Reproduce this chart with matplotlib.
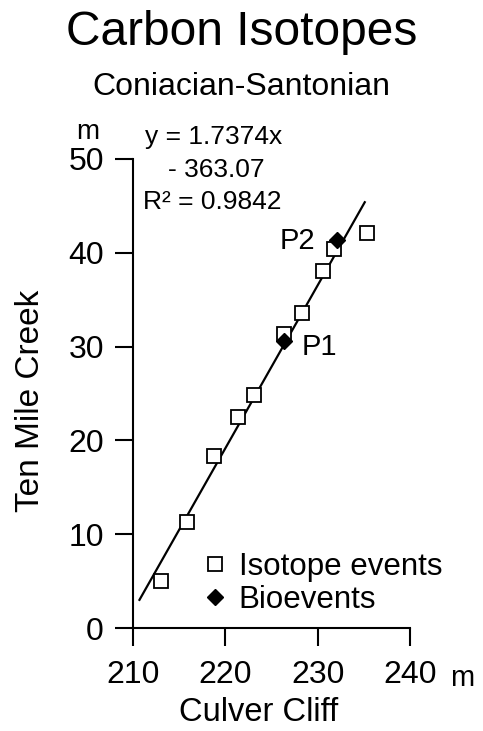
import matplotlib

matplotlib.use("Agg")
import matplotlib.pyplot as plt
import numpy as np

plt.rcParams["font.family"] = ["Liberation Sans", "DejaVu Sans"]

# isotope events (open squares): Culver Cliff (m) vs Ten Mile Creek (m)
iso_x = [213.0, 215.9, 218.8, 221.4, 223.1, 226.3, 228.3, 230.6, 231.8, 235.3]
iso_y = [5.0, 11.3, 18.3, 22.5, 24.8, 31.3, 33.6, 38.1, 40.4, 42.1]

# bioevents (filled diamonds)
bio_x = [226.3, 232.1]
bio_y = [30.6, 41.4]
bio_labels = ["P1", "P2"]

# linear fit shown on the chart
slope = 1.7374
intercept = -363.07
r_squared = 0.9842
fit_x = np.array([210.7, 235.1])

x_ticks = [210, 220, 230, 240]
y_ticks = [0, 10, 20, 30, 40, 50]

fig = plt.figure(figsize=(4.83, 7.31), dpi=100)
ax = fig.add_axes([133 / 483, 1 - 628 / 731, 277 / 483, 469 / 731])

ax.plot(fit_x, slope * fit_x + intercept, color="black", lw=1.6, zorder=2)
ax.plot(iso_x, iso_y, ls="none", marker="s", ms=9.5, mfc="white", mec="black",
        mew=1.3, label="Isotope events", zorder=3)
ax.plot(bio_x, bio_y, ls="none", marker="D", ms=8.5, mfc="black", mec="black",
        label="Bioevents", zorder=4)

offsets = {"P1": ((13, -4), "left"), "P2": ((-16, -1), "right")}
for bx, by, lab in zip(bio_x, bio_y, bio_labels):
    off, ha = offsets[lab]
    ax.annotate(lab, (bx, by), xytext=off, textcoords="offset points",
                ha=ha, va="center", fontsize=21)

ax.set_xlim(210, 240)
ax.set_ylim(0, 50)
ax.set_xticks(x_ticks)
ax.set_yticks(y_ticks)
for side in ("top", "right"):
    ax.spines[side].set_visible(False)
for side in ("left", "bottom"):
    ax.spines[side].set_linewidth(1.5)
ax.tick_params(direction="out", length=13, width=1.5, labelsize=23)
ax.tick_params(axis="y", pad=8)
ax.tick_params(axis="x", pad=10)

ax.set_xlabel("Culver Cliff", fontsize=23.5)
ax.xaxis.set_label_coords(0.452, -0.147)
ax.set_ylabel("Ten Mile Creek", fontsize=24)
ax.yaxis.set_label_coords(-0.314, 0.484)

ax.text(1.188, -0.106, "m", transform=ax.transAxes, ha="center", va="center", fontsize=21)
ax.text(-0.162, 1.058, "m", transform=ax.transAxes, ha="center", va="center", fontsize=20)

ax.text(0.043, 1.047, f"y = {slope}x", transform=ax.transAxes, ha="left", va="center", fontsize=19)
ax.text(0.125, 0.977, f"- {abs(intercept)}", transform=ax.transAxes, ha="left", va="center", fontsize=19)
ax.text(0.036, 0.909, f"R² = {r_squared}", transform=ax.transAxes, ha="left", va="center", fontsize=19)

ax.legend(loc="upper left", bbox_to_anchor=(0.252, 0.162), frameon=False,
          fontsize=22.5, handlelength=0.75, handletextpad=0.4, labelspacing=0.08,
          borderpad=0, borderaxespad=0)

fig.text(0.5, 1 - 45 / 731, "Carbon Isotopes", ha="center", va="baseline", fontsize=34.5)
fig.text(0.5, 1 - 95 / 731, "Coniacian-Santonian", ha="center", va="baseline", fontsize=23)

fig.savefig("out.png", dpi=100)
